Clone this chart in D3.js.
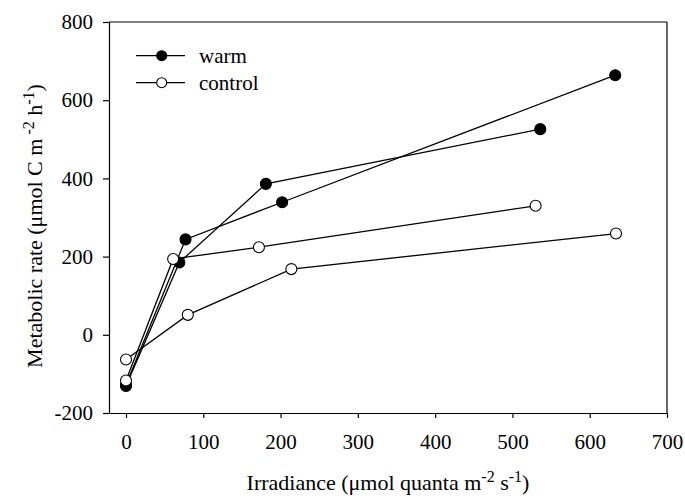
<!DOCTYPE html>
<html><head><meta charset="utf-8">
<script src="https://cdn.jsdelivr.net/npm/d3@7"></script>
<style>
body{margin:0;background:#fff;}
text{font-family:"Liberation Serif","Times New Roman",serif;fill:#000;}
</style></head>
<body><svg id="c" width="685" height="500"></svg>
<script>
const xTicks=[0,100,200,300,400,500,600,700];
const yTicks=[-200,0,200,400,600,800];
const warmA=[[0,-131],[69,185],[181,386],[536,526]];
const warmB=[[0,-128],[77,244],[202,339],[633,664]];
const controlA=[[0,-117],[61,194],[172,224],[530,330]];
const controlB=[[0,-63],[80,51],[214,168],[634,259]];
const seriesNames=["warm","control"];

const svg=d3.select("#c");
const L=109,R=667,T=22,B=413;
const x=d3.scaleLinear().domain([-22,700]).range([L,R]);
const y=d3.scaleLinear().domain([-200,800]).range([B,T]);
const fmt=d=>String(d);

// frame
svg.append("line").attr("x1",L).attr("x2",R).attr("y1",T).attr("y2",T).attr("stroke","#000").attr("stroke-width",1.2);
svg.append("line").attr("x1",R).attr("x2",R).attr("y1",T).attr("y2",B).attr("stroke","#000").attr("stroke-width",1.2);

const xa=svg.append("g").attr("transform",`translate(0,${B})`).call(d3.axisBottom(x).tickValues(xTicks).tickFormat(fmt).tickSize(5).tickPadding(16).tickSizeOuter(0));
const ya=svg.append("g").attr("transform",`translate(${L},0)`).call(d3.axisLeft(y).tickValues(yTicks).tickFormat(fmt).tickSize(6).tickPadding(10).tickSizeOuter(0));
[xa,ya].forEach(a=>{a.selectAll("text").style("font-size","21px").style("font-family","Liberation Serif");a.selectAll("path,line").attr("stroke","#000").attr("stroke-width",1.2);});

const line=d3.line().x(d=>x(d[0])).y(d=>y(d[1]));
const all=[[warmA,true],[warmB,true],[controlA,false],[controlB,false]];
all.forEach(([d,f])=>{
  svg.append("path").datum(d).attr("d",line).attr("fill","none").attr("stroke","#000").attr("stroke-width",1.3);
});
all.forEach(([d,f])=>{
  svg.selectAll(null).data(d).enter().append("circle").attr("cx",p=>x(p[0])).attr("cy",p=>y(p[1])).attr("r",5.5)
    .attr("fill",f?"#000":"#fff").attr("stroke","#000").attr("stroke-width",1.1);
});

// legend
seriesNames.forEach((n,i)=>{
  const ly=55.7+i*27;
  svg.append("line").attr("x1",136).attr("x2",185).attr("y1",ly).attr("y2",ly).attr("stroke","#000").attr("stroke-width",1.3);
  svg.append("circle").attr("cx",161.7).attr("cy",ly).attr("r",5).attr("fill",i===0?"#000":"#fff").attr("stroke","#000").attr("stroke-width",1.1);
  svg.append("text").attr("x",199).attr("y",ly+7.5).style("font-size","21px").text(n);
});

// axis titles
const xt=svg.append("text").attr("x",(L+R)/2).attr("y",490).attr("text-anchor","middle").style("font-size","22px");
xt.append("tspan").text("Irradiance (μmol quanta m");
xt.append("tspan").attr("dy",-8).style("font-size","16px").text("-2");
xt.append("tspan").attr("dy",8).text(" s");
xt.append("tspan").attr("dy",-8).style("font-size","16px").text("-1");
xt.append("tspan").attr("dy",8).text(")");

const yt=svg.append("text").attr("transform",`translate(42,226) rotate(-90)`).attr("text-anchor","middle").style("font-size","22px");
yt.append("tspan").text("Metabolic rate (μmol C m");
yt.append("tspan").attr("dy",-8).style("font-size","16px").text(" -2");
yt.append("tspan").attr("dy",8).text("  h");
yt.append("tspan").attr("dy",-8).style("font-size","16px").text("-1");
yt.append("tspan").attr("dy",8).text(")");
</script></body></html>
